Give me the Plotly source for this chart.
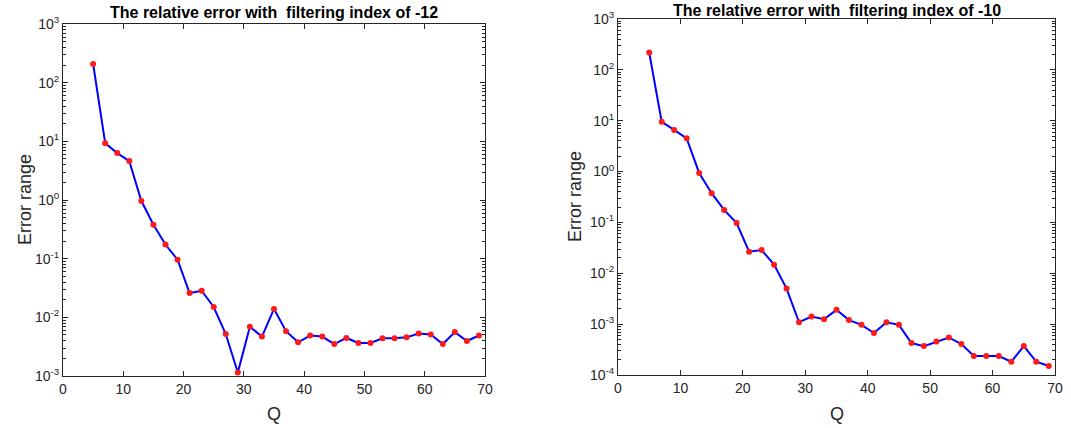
import plotly.graph_objects as go

Q = list(range(5, 70, 2))
err_m12 = [208, 9.3, 6.3, 4.6, 0.96, 0.38, 0.174, 0.096, 0.026, 0.0284, 0.015, 0.0052,
           0.00115, 0.0069, 0.0047, 0.0139, 0.0058, 0.00375, 0.0049, 0.0047, 0.0035,
           0.00445, 0.00366, 0.00366, 0.0044, 0.0044, 0.00456, 0.0053, 0.0051, 0.0035,
           0.0056, 0.00395, 0.0049]
err_m10 = [219, 9.5, 6.6, 4.5, 0.94, 0.376, 0.176, 0.097, 0.0266, 0.0287, 0.0148, 0.005,
           0.00109, 0.00141, 0.00125, 0.00191, 0.0012, 0.00097, 0.00067, 0.00109, 0.00097,
           0.000424, 0.00037, 0.000457, 0.000547, 0.000405, 0.000236, 0.000236, 0.000236,
           0.000183, 0.00037, 0.000183, 0.00015]
titles = ["The relative error with  filtering index of -12",
          "The relative error with  filtering index of -10"]
x_ticks = [0, 10, 20, 30, 40, 50, 60, 70]

W, H = 1071, 428
AX = "#262626"
FONT = "Liberation Sans, Arial, sans-serif"

fig = go.Figure()

panels = [
    dict(y=err_m12, x0=63, x1=485, ytop=24, ybot=376, ylo=-3, yhi=3,
         title_y=12, title_anchor="middle", lab_x=25, lab_y=200, q_y=414),
    dict(y=err_m10, x0=618, x1=1055, ytop=19, ybot=375, ylo=-4, yhi=3,
         title_y=0, title_anchor="top", lab_x=575, lab_y=197, q_y=414),
]

for i, p in enumerate(panels):
    xa = "x" if i == 0 else "x2"
    ya = "y" if i == 0 else "y2"
    fig.add_trace(go.Scatter(
        x=Q, y=p["y"], xaxis=xa, yaxis=ya, mode="lines+markers",
        line=dict(color="#0000ff", width=2),
        marker=dict(color="#ff1a1a", size=6, line=dict(width=0)),
        showlegend=False))
    decades = list(range(p["ylo"], p["yhi"] + 1))
    xkey = "xaxis" if i == 0 else "xaxis2"
    ykey = "yaxis" if i == 0 else "yaxis2"
    fig.update_layout(**{
        xkey: dict(domain=[p["x0"] / W, p["x1"] / W], range=[0, 70], automargin=False,
                   anchor=ya, tickvals=x_ticks, ticks="inside", ticklen=5,
                   tickcolor=AX, showline=True, linecolor=AX, linewidth=1,
                   mirror="ticks", showgrid=False, zeroline=False,
                   tickfont=dict(family=FONT, size=14, color=AX)),
        ykey: dict(domain=[1 - p["ybot"] / H, 1 - p["ytop"] / H], type="log",
                   range=[p["ylo"], p["yhi"]], anchor=xa, automargin=False,
                   tickvals=[10 ** d for d in decades],
                   ticktext=["10<sup>%d</sup>" % d for d in decades],
                   ticks="inside", ticklen=5, tickcolor=AX,
                   showline=True, linecolor=AX, linewidth=1, mirror="ticks",
                   showgrid=False, zeroline=False,
                   minor=dict(ticks="inside", ticklen=3, tickcolor=AX, dtick="D1", showgrid=False),
                   tickfont=dict(family=FONT, size=14, color=AX)),
    })
    cx = (p["x0"] + p["x1"]) / 2 / W
    fig.add_annotation(x=cx, y=1 - p["title_y"] / H, xref="paper", yref="paper",
                       text="<b>" + titles[i] + "</b>", showarrow=False,
                       xanchor="center", yanchor=p["title_anchor"],
                       font=dict(family=FONT, size=16, color="#000000"))
    fig.add_annotation(x=cx, y=1 - p["q_y"] / H, xref="paper", yref="paper",
                       text="Q", showarrow=False, xanchor="center", yanchor="middle",
                       font=dict(family=FONT, size=18, color=AX))
    fig.add_annotation(x=p["lab_x"] / W, y=1 - p["lab_y"] / H,
                       xref="paper", yref="paper", text="Error range", textangle=-90,
                       showarrow=False, xanchor="center", yanchor="middle",
                       font=dict(family=FONT, size=18, color=AX))

fig.update_layout(width=W, height=H, margin=dict(l=0, r=0, t=0, b=0),
                  paper_bgcolor="white", plot_bgcolor="white")
fig.write_html("out.html", config={"displayModeBar": False},
               post_script="document.body.style.margin='0px';")
